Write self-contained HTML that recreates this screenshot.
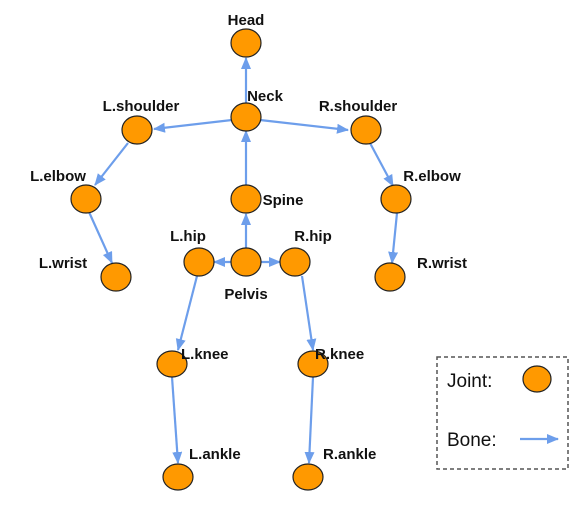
<!DOCTYPE html>
<html><head><meta charset="utf-8"><style>
html,body{margin:0;padding:0;background:#fff;}
text{font-family:"Liberation Sans",Arial,sans-serif;}
.l{font-weight:bold;font-size:15px;fill:#111;}
</style></head><body>
<svg width="581" height="502" viewBox="0 0 581 502" xmlns="http://www.w3.org/2000/svg">
<defs><marker id="a" markerWidth="14" markerHeight="12" refX="11" refY="5" orient="auto" markerUnits="userSpaceOnUse"><path d="M0,0 L12,5 L0,10 z" fill="#6d9eeb"/></marker></defs>
<g stroke="#6d9eeb" stroke-width="2.2" fill="none" marker-end="url(#a)">
<line x1="246" y1="103" x2="246" y2="58"/>
<line x1="232" y1="120" x2="154" y2="129"/>
<line x1="260" y1="120" x2="348" y2="130"/>
<line x1="128" y1="143" x2="95" y2="185"/>
<line x1="370" y1="143" x2="393" y2="186"/>
<line x1="89" y1="212" x2="112" y2="263"/>
<line x1="397" y1="213" x2="392" y2="263"/>
<line x1="246" y1="186" x2="246" y2="131"/>
<line x1="246" y1="248" x2="246" y2="214"/>
<line x1="232" y1="262" x2="214" y2="262"/>
<line x1="260" y1="262" x2="280" y2="262"/>
<line x1="197" y1="276" x2="178" y2="350"/>
<line x1="302" y1="276" x2="313" y2="350"/>
<line x1="172" y1="377" x2="178" y2="463"/>
<line x1="313" y1="377" x2="309" y2="463"/>
<line x1="520" y1="439" x2="558" y2="439"/>
</g>
<g fill="#ff9900" stroke="#222" stroke-width="1.2">
<ellipse cx="246" cy="43" rx="15" ry="14"/>
<ellipse cx="246" cy="117" rx="15" ry="14"/>
<ellipse cx="137" cy="130" rx="15" ry="14"/>
<ellipse cx="366" cy="130" rx="15" ry="14"/>
<ellipse cx="86" cy="199" rx="15" ry="14"/>
<ellipse cx="396" cy="199" rx="15" ry="14"/>
<ellipse cx="246" cy="199" rx="15" ry="14"/>
<ellipse cx="199" cy="262" rx="15" ry="14"/>
<ellipse cx="246" cy="262" rx="15" ry="14"/>
<ellipse cx="295" cy="262" rx="15" ry="14"/>
<ellipse cx="116" cy="277" rx="15" ry="14"/>
<ellipse cx="390" cy="277" rx="15" ry="14"/>
<ellipse cx="172" cy="364" rx="15" ry="13"/>
<ellipse cx="313" cy="364" rx="15" ry="13"/>
<ellipse cx="178" cy="477" rx="15" ry="13"/>
<ellipse cx="308" cy="477" rx="15" ry="13"/>
<ellipse cx="537" cy="379" rx="14" ry="13"/>
</g>
<g class="l">
<text x="246" y="25" text-anchor="middle" class="l">Head</text>
<text x="265" y="101" text-anchor="middle" class="l">Neck</text>
<text x="141" y="111" text-anchor="middle" class="l">L.shoulder</text>
<text x="358" y="111" text-anchor="middle" class="l">R.shoulder</text>
<text x="58" y="181" text-anchor="middle" class="l">L.elbow</text>
<text x="432" y="181" text-anchor="middle" class="l">R.elbow</text>
<text x="283" y="205" text-anchor="middle" class="l">Spine</text>
<text x="188" y="241" text-anchor="middle" class="l">L.hip</text>
<text x="313" y="241" text-anchor="middle" class="l">R.hip</text>
<text x="63" y="268" text-anchor="middle" class="l">L.wrist</text>
<text x="442" y="268" text-anchor="middle" class="l">R.wrist</text>
<text x="246" y="299" text-anchor="middle" class="l">Pelvis</text>
<text x="181" y="359" class="l">L.knee</text>
<text x="315" y="359" class="l">R.knee</text>
<text x="189" y="459" class="l">L.ankle</text>
<text x="323" y="459" class="l">R.ankle</text>
</g>
<rect x="437" y="357" width="131" height="112" fill="none" stroke="#555" stroke-width="1.5" stroke-dasharray="4,3"/>
<text x="447" y="387" font-size="19" fill="#111">Joint:</text>
<text x="447" y="446" font-size="19" fill="#111">Bone:</text>
</svg>
</body></html>
